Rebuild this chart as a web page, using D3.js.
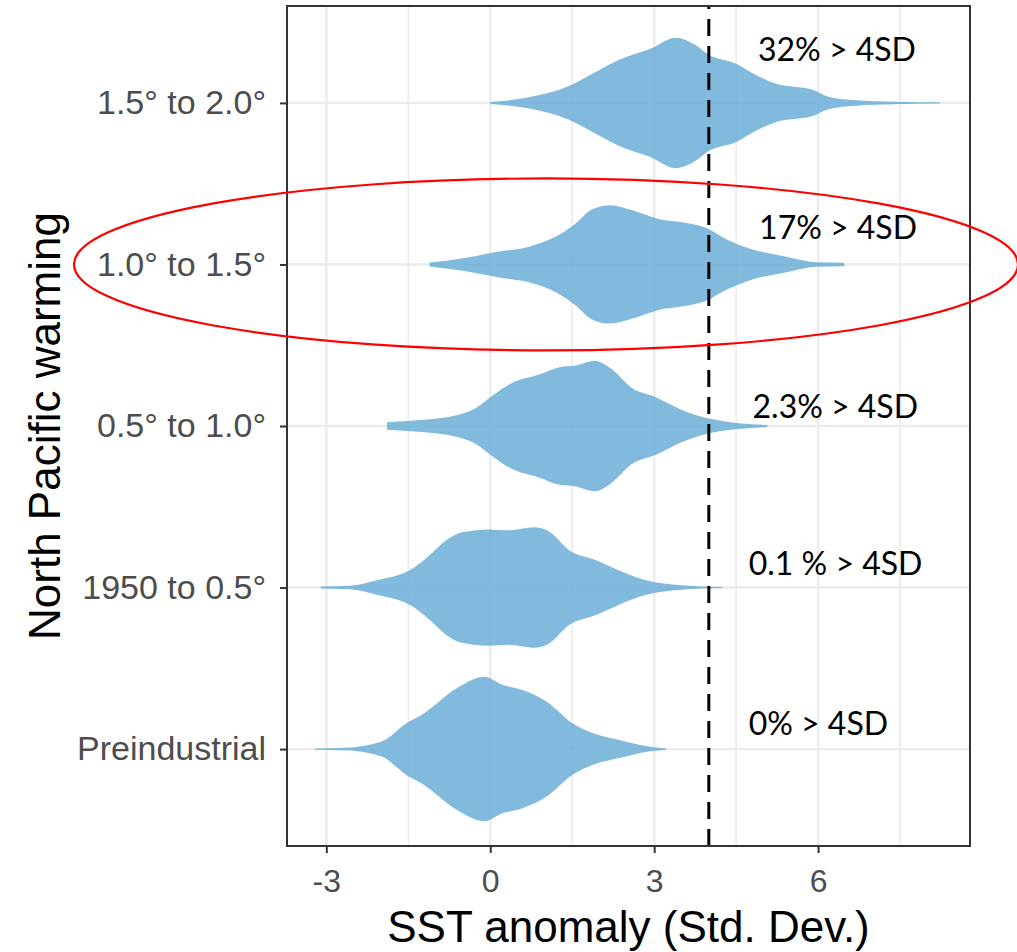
<!DOCTYPE html>
<html>
<head>
<meta charset="utf-8">
<script src="https://cdn.jsdelivr.net/npm/d3@7"></script>
<style>
  body { margin: 0; background: #fff; }
  text { font-family: "Liberation Sans", Arial, sans-serif; }
</style>
</head>
<body>
<svg width="1017" height="952"></svg>
<script>
// categories, bottom to top
const categories = ["Preindustrial", "1950 to 0.5°", "0.5° to 1.0°", "1.0° to 1.5°", "1.5° to 2.0°"];
const xTicks = [-3, 0, 3, 6];
const xMinor = [-1.5, 1.5, 4.5, 7.5];
const threshold = 4;

// violin outlines: [SST anomaly, half width as a share of category spacing]
const preindustrial = [[-3.21, 0.004], [-2.65, 0.008], [-2.0, 0.045], [-1.5, 0.168], [-1.26, 0.211],
  [-0.6, 0.379], [-0.11, 0.447], [0.22, 0.398], [0.59, 0.366], [1.04, 0.292], [1.5, 0.161],
  [1.87, 0.099], [2.36, 0.056], [2.93, 0.014], [3.22, 0.004]];
const warm1950to05 = [[-3.1, 0.006], [-2.57, 0.011], [-2.08, 0.045], [-1.42, 0.118], [-1.18, 0.18],
  [-0.76, 0.304], [-0.52, 0.342], [-0.02, 0.36], [0.35, 0.354], [0.8, 0.373], [1.04, 0.354],
  [1.45, 0.23], [1.95, 0.168], [2.36, 0.106], [2.85, 0.045], [3.5, 0.014], [4.25, 0.003]];
const warm05to10 = [[-1.89, 0.023], [-1.26, 0.037], [-0.6, 0.068], [-0.27, 0.11], [0.06, 0.193],
  [0.39, 0.265], [0.88, 0.317], [1.29, 0.366], [1.54, 0.373], [1.91, 0.404], [2.19, 0.36],
  [2.6, 0.234], [3.02, 0.18], [3.51, 0.099], [3.92, 0.052], [4.33, 0.027], [5.07, 0.006]];
const warm10to15 = [[-1.11, 0.012], [-0.44, 0.042], [0.14, 0.079], [0.71, 0.11], [1.21, 0.174],
  [1.54, 0.248], [1.87, 0.342], [2.19, 0.366], [2.6, 0.335], [3.1, 0.28], [3.51, 0.261],
  [3.92, 0.23], [4.33, 0.155], [4.74, 0.099], [5.4, 0.05], [5.97, 0.014], [6.48, 0.011]];
const warm15to20 = [[0.0, 0.006], [0.71, 0.035], [1.45, 0.106], [1.87, 0.18], [2.36, 0.267],
  [2.93, 0.335], [3.39, 0.404], [3.75, 0.36], [4.0, 0.298], [4.5, 0.242], [4.82, 0.18],
  [5.23, 0.118], [5.9, 0.081], [6.2, 0.037], [6.7, 0.017], [7.37, 0.008], [8.23, 0.004]];
const violins = [preindustrial, warm1950to05, warm05to10, warm10to15, warm15to20];

const notes = ["0% > 4SD", "0.1 % > 4SD", "2.3% > 4SD", "17% > 4SD", "32% > 4SD"];
// where each note sits: x in data units, y offset from its category in px
const noteX = [4.73, 4.73, 4.8, 4.92, 4.9];
const noteDy = [-14, -13, -8, -25, -42];

const svg = d3.select("svg");
const mLeft = 287, mRight = 970, mTop = 6, mBottom = 846;

const x = d3.scaleLinear().domain([-3.72, 8.78]).range([mLeft, mRight]);
const y = d3.scalePoint().domain(categories).range([mBottom, mTop]).padding(0.6);
const w = d3.scaleLinear().domain([0, 1]).range([0, y.step()]);

// grid
const grid = svg.append("g");
grid.selectAll(".minor").data(xMinor).enter().append("line")
  .attr("x1", d => x(d)).attr("x2", d => x(d))
  .attr("y1", mTop).attr("y2", mBottom)
  .attr("stroke", "#ebebeb").attr("stroke-width", 1.6);
grid.selectAll(".major").data(xTicks).enter().append("line")
  .attr("x1", d => x(d)).attr("x2", d => x(d))
  .attr("y1", mTop).attr("y2", mBottom)
  .attr("stroke", "#ebebeb").attr("stroke-width", 2.4);
grid.selectAll(".hz").data(categories).enter().append("line")
  .attr("x1", mLeft).attr("x2", mRight)
  .attr("y1", d => y(d)).attr("y2", d => y(d))
  .attr("stroke", "#ebebeb").attr("stroke-width", 2.4);

// violins
categories.forEach((c, i) => {
  const cy = y(c);
  const area = d3.area()
    .x(d => x(d[0]))
    .y0(d => cy - w(d[1]))
    .y1(d => cy + w(d[1]))
    .curve(d3.curveMonotoneX);
  svg.append("path")
    .datum(violins[i])
    .attr("d", area)
    .attr("fill", "#6baed6")
    .attr("fill-opacity", 0.85);
});

// threshold line
svg.append("line")
  .attr("x1", x(threshold)).attr("x2", x(threshold))
  .attr("y1", mBottom).attr("y2", mTop)
  .attr("stroke", "#000").attr("stroke-width", 3)
  .attr("stroke-dasharray", "17,10");

// panel border
svg.append("rect")
  .attr("x", mLeft).attr("y", mTop)
  .attr("width", mRight - mLeft).attr("height", mBottom - mTop)
  .attr("fill", "none").attr("stroke", "#333").attr("stroke-width", 2);

// axes
const xAxis = svg.append("g")
  .attr("transform", `translate(0,${mBottom})`)
  .call(d3.axisBottom(x).tickValues(xTicks).tickSize(7).tickPadding(16).tickFormat(d3.format("d")));
const yAxis = svg.append("g")
  .attr("transform", `translate(${mLeft},0)`)
  .call(d3.axisLeft(y).tickSize(7).tickPadding(14));
[xAxis, yAxis].forEach(g => {
  g.select(".domain").remove();
  g.selectAll(".tick line").attr("stroke", "#333").attr("stroke-width", 2);
  g.selectAll(".tick text")
    .attr("fill", "#4d4d4d")
    .style("font-family", "'Liberation Sans', Arial, sans-serif")
    .style("font-size", "34px");
});
xAxis.selectAll(".tick text").style("font-size", "32px").text(d => d < 0 ? "-" + Math.abs(d) : d);

// titles
svg.append("text")
  .attr("x", (mLeft + mRight) / 2).attr("y", 942)
  .attr("text-anchor", "middle")
  .style("font-size", "44px")
  .text("SST anomaly (Std. Dev.)");
svg.append("text")
  .attr("transform", `translate(60,${(mTop + mBottom) / 2}) rotate(-90)`)
  .attr("text-anchor", "middle")
  .style("font-size", "44px")
  .text("North Pacific warming");

// notes
svg.selectAll(".note").data(notes).enter().append("text")
  .attr("x", (d, i) => x(noteX[i]))
  .attr("y", (d, i) => y(categories[i]) + noteDy[i])
  .style("font-family", "Lato, 'Open Sans', sans-serif")
  .style("font-size", "32px")
  .attr("fill", "#000")
  .text(d => d);

// highlight ellipse
svg.append("ellipse")
  .attr("cx", 546).attr("cy", y("1.0° to 1.5°"))
  .attr("rx", 472).attr("ry", 86)
  .attr("fill", "none").attr("stroke", "#f00").attr("stroke-width", 2.2);
</script>
</body>
</html>
